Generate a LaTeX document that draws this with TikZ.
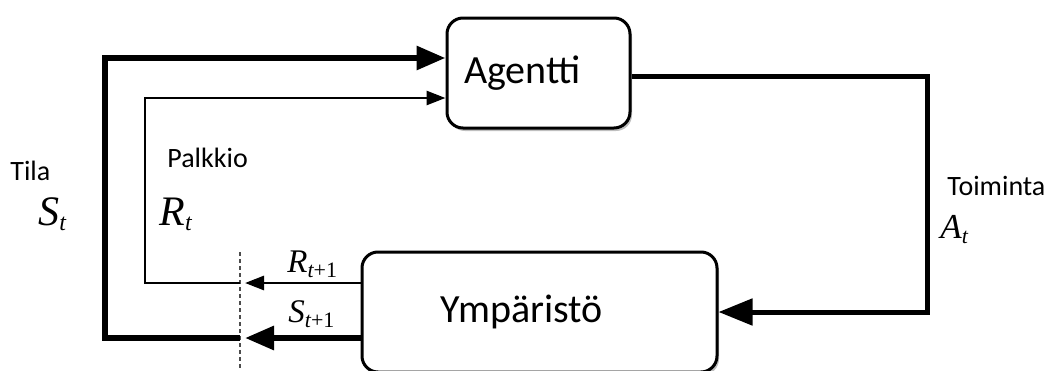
\RequirePackage{fix-cm}
\documentclass[tikz,border=0pt]{standalone}
\usepackage{fontspec}
\setsansfont{Carlito}
\newfontfamily\symfont{Liberation Serif}
\usetikzlibrary{arrows.meta, positioning, shadows}
\definecolor{rlInk}{HTML}{000000}
\newcommand{\rlsym}[4]{{\symfont\fontsize{#3}{#3}\selectfont\itshape #1}\raisebox{-0.28em}{\symfont\fontsize{#4}{#4}\selectfont #2}}
\tikzset{
  block/.style={
    draw=rlInk, line width=1.5pt, rounded corners=8pt,
    fill=white, inner sep=0pt, text=rlInk,
    font=\sffamily\fontsize{20}{24}\selectfont,
    drop shadow={fill=black, opacity=0.25, shadow xshift=1pt, shadow yshift=-1.5pt}
  },
  heavy/.style={line width=3pt, draw=rlInk},
  light/.style={line width=1.4pt, draw=rlInk},
  acting/.style={line width=2.5pt, draw=rlInk, -{Triangle[length=17pt, width=13pt]}},
  bigtip/.style={-{Triangle[length=14.5pt, width=11.5pt]}},
  smalltip/.style={-{Triangle[length=9.5pt, width=7pt]}},
  cutline/.style={line width=0.8pt, draw=rlInk!70, dash pattern=on 2pt off 1.5pt},
  lbl/.style={font=\sffamily\fontsize{14}{16}\selectfont, text=rlInk, inner sep=0pt, anchor=base west},
  sym/.style={text=rlInk, inner sep=0pt, anchor=base west},
}

\begin{document}
\begin{tikzpicture}[x=0.5pt, y=-0.5pt]
  \useasboundingbox (0,0) rectangle (1061,370);
  \node[block, minimum width=91.5pt, minimum height=55pt] (agent) at (538.5,73)
    {Agentti\hspace*{16pt}};
  \node[block, minimum width=177.5pt, minimum height=60pt] (env) at (539.5,312)
    {Ympäristö\hspace*{18pt}};

  \coordinate (cutTop) at (240,252);
  \coordinate (cutBot) at (240,372);
  \coordinate (sTip) at (245,338);
  \coordinate (rTip) at (245,283);
  \coordinate (sCorner) at (105,338);
  \coordinate (rCorner) at (145,283);
  \coordinate (aCorner) at (927,200);

  \draw[cutline] (cutTop) -- (cutBot);
  \draw[heavy, bigtip] ([yshift=-13pt]env.west) -- (sTip);
  \draw[light, smalltip] ([yshift=14.5pt]env.west) -- (rTip);
  \draw[heavy, bigtip] (cutTop |- sCorner) -- (sCorner) |- ([yshift=7.5pt]agent.west);
  \draw[light, smalltip] (cutTop |- rCorner) -- (rCorner) |- ([yshift=-12.5pt]agent.west);
  \draw[acting] ([yshift=-1.5pt]agent.east) -| (aCorner) |- (env.east);

  \node[lbl] (tila) at (10,180) {Tila};
  \node[sym] (st) at (38,225) {\rlsym{S}{\itshape t}{21}{12}};
  \node[lbl] (palkkio) at (167,167) {Palkkio};
  \node[sym] (rt) at (159,225) {\rlsym{R}{\itshape t}{21}{12}};
  \node[lbl] (toiminta) at (947,195) {Toiminta};
  \node[sym] (at) at (940,238) {\rlsym{A}{\itshape t}{17.5}{11}};
  \node[sym] (rnext) at (287,272) {\rlsym{R}{{\itshape t}+1}{16.5}{11}};
  \node[sym] (snext) at (288,322) {\rlsym{S}{{\itshape t}+1}{16.5}{11}};
\end{tikzpicture}
\end{document}
